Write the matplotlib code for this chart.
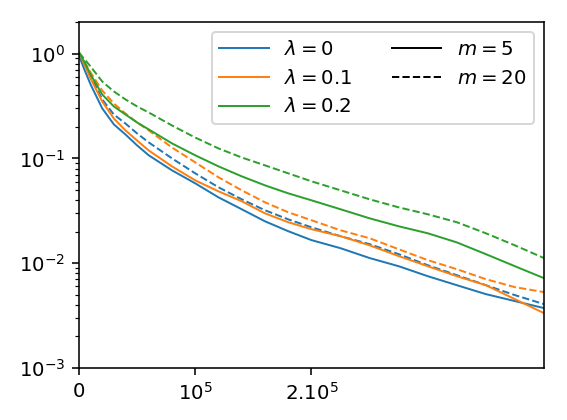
import matplotlib
matplotlib.use("Agg")
import numpy as np
from matplotlib import pyplot as plt

# iterations (x axis)
iters = [0, 5000, 10000, 20000, 30000, 40000, 50000, 60000, 80000, 100000,
         120000, 140000, 160000, 180000, 200000, 225000, 250000, 275000,
         300000, 325000, 350000, 375000, 400000]

# lambda = 0
lam0_m5 = [0.957, 0.689, 0.507, 0.300, 0.211, 0.169, 0.133, 0.107, 0.0769, 0.0578,
           0.0425, 0.0327, 0.0251, 0.0202, 0.0166, 0.0139, 0.0112, 0.00936,
           0.00752, 0.00617, 0.00507, 0.00435, 0.00373]
lam0_m20 = [1.0, 0.786, 0.617, 0.365, 0.262, 0.215, 0.173, 0.142, 0.1, 0.0720,
            0.0530, 0.0407, 0.0320, 0.0262, 0.0220, 0.0181, 0.0152, 0.0122,
            0.00957, 0.00769, 0.00617, 0.00496, 0.00407]

# lambda = 0.1
lam1_m5 = [1.022, 0.769, 0.578, 0.349, 0.240, 0.185, 0.148, 0.119, 0.0839, 0.0617,
           0.0485, 0.0390, 0.0299, 0.0246, 0.0211, 0.0181, 0.0148, 0.0117,
           0.00936, 0.00752, 0.00617, 0.00454, 0.00334]
lam1_m20 = [1.022, 0.821, 0.659, 0.444, 0.334, 0.268, 0.220, 0.185, 0.127, 0.0916,
            0.0660, 0.0496, 0.0381, 0.0306, 0.0257, 0.0206, 0.0173, 0.0136,
            0.0107, 0.00877, 0.00704, 0.00591, 0.00530]

# lambda = 0.2
lam2_m5 = [1.022, 0.821, 0.631, 0.407, 0.313, 0.262, 0.220, 0.189, 0.139, 0.107,
           0.0839, 0.0674, 0.0553, 0.0464, 0.0398, 0.0327, 0.0268, 0.0225,
           0.0193, 0.0158, 0.0122, 0.00936, 0.00720]
lam2_m20 = [1.022, 0.877, 0.752, 0.541, 0.435, 0.365, 0.313, 0.274, 0.206, 0.158,
            0.1245, 0.102, 0.0858, 0.0720, 0.0604, 0.0496, 0.0407, 0.0341,
            0.0293, 0.0246, 0.0193, 0.0148, 0.0112]

lam_labels = [r"$\lambda = 0$", r"$\lambda = 0.1$", r"$\lambda = 0.2$"]
m_labels = [r"$m = 5$", r"$m = 20$"]
xtick_vals = [0, 100000, 200000]
xtick_labels = ["0", r"$10^5$", r"$2.10^5$"]

fig = plt.figure(figsize=(4.0, 420 / 141.75), dpi=141.75)
ax = fig.add_axes([0.1393, 0.1238, 0.82, 0.8238])

colors = ["C0", "C1", "C2"]
solid = [lam0_m5, lam1_m5, lam2_m5]
dashed = [lam0_m20, lam1_m20, lam2_m20]

for c, s, d in zip(colors, solid, dashed):
    ax.plot(iters, s, color=c, linestyle="-", lw=1.0)
    ax.plot(iters, d, color=c, linestyle="--", lw=1.0)

ax.set_yscale("log")
ax.set_ylim(1e-3, 2)
ax.set_xlim(0, 400000)
ax.set_xticks(xtick_vals)
ax.set_xticklabels(xtick_labels)

# legend: colours for lambda, line styles for m
handles = [plt.Line2D([], [], color=c, lw=1.0) for c in colors]
handles += [plt.Line2D([], [], color="k", linestyle="-", lw=1.0),
            plt.Line2D([], [], color="k", linestyle="--", lw=1.0)]
ax.legend(handles, lam_labels + m_labels, ncol=2, loc="upper right",
          handlelength=2.5)

fig.savefig("out.png", dpi=141.75)
